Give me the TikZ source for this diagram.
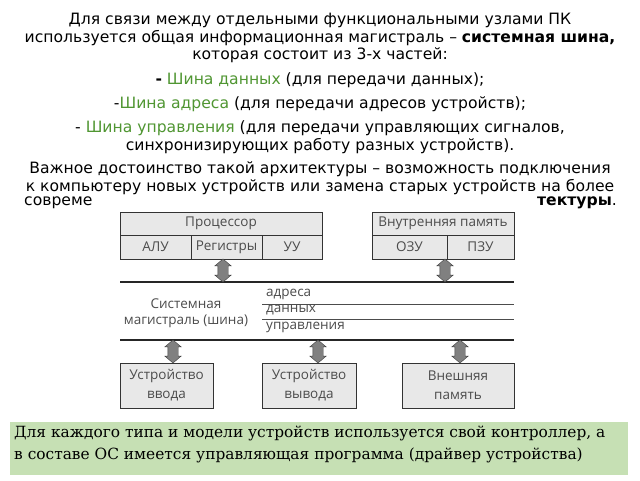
\documentclass[tikz,border=0pt]{standalone}
\usepackage{fontspec}
\setmainfont{DejaVu Sans}
\newfontfamily\diagfont{Open Sans}
\newfontfamily\notefont{DejaVu Serif}
\usetikzlibrary{shapes.arrows}
\definecolor{busgreen}{RGB}{80,150,50}
\definecolor{notegreen}{RGB}{198,224,180}
\definecolor{boxgray}{RGB}{232,232,232}
\tikzset{
  para/.style={align=center, font=\fontsize{15.6}{17.5}\selectfont, inner sep=0pt},
  cell/.style={draw=black!80, thick, fill=boxgray, font=\diagfont\fontsize{13.5}{19}\selectfont, text=black!70, align=center, inner sep=0pt},
  dbl/.style={double arrow, shape border rotate=90, draw=black!75, fill=black!50, minimum height=23pt, minimum width=11pt, double arrow head extend=3pt, double arrow tip angle=100, inner sep=5pt},
  busline/.style={line width=1.6pt, black!85},
  wire/.style={thin, black!70},
  small/.style={font=\diagfont\fontsize{13.5}{16}\selectfont, text=black!70, inner sep=0pt, anchor=west}
}
\begin{document}
\begin{tikzpicture}[x=1pt,y=-1pt]
\useasboundingbox (0,0) rectangle (640,480);
\fill[white] (0,0) rectangle (640,480);

% text
\node[para] (t1) at (320,38) {Для связи между отдельными функциональными узлами ПК\\используется общая информационная магистраль – \textbf{системная шина,}\\которая состоит из 3-х частей:};
\node[para] (t2) at (320,80) {\textbf{-} \textcolor{busgreen}{Шина данных} (для передачи данных);};
\node[para] (t3) at (320,104) {-\textcolor{busgreen}{Шина адреса} (для передачи адресов устройств);};
\node[para] (t4) at (320,137) {- \textcolor{busgreen}{Шина управления} (для передачи управляющих сигналов,\\синхронизирующих работу разных устройств).};
\node[para] (t5) at (320,178) {Важное достоинство такой архитектуры – возможность подключения\\к компьютеру новых устройств или замена старых устройств на более};
\node[para, anchor=west] (t6) at (24,203) {совреме};
\node[para, anchor=east] (t7) at (617,203) {\textbf{тектуры}.};
\fill[white] (112,206) rectangle (528,416);

% processor and memory
\node[cell, minimum width=202pt, minimum height=23pt] (cpu) at (221,223.5) {Процессор};
\node[cell, minimum width=71pt, minimum height=24pt] (alu) at (155.5,247) {АЛУ};
\node[cell, minimum width=71pt, minimum height=24pt] (reg) at (226.5,247) {Регистры};
\node[cell, minimum width=60pt, minimum height=24pt] (cu) at (292,247) {УУ};
\node[cell, minimum width=142pt, minimum height=23pt] (mem) at (443,223.5) {Внутренняя память};
\node[cell, minimum width=75pt, minimum height=24pt] (ram) at (409.5,247) {ОЗУ};
\node[cell, minimum width=67pt, minimum height=24pt] (rom) at (480.5,247) {ПЗУ};

% bus
\coordinate (btl) at (120,282);
\coordinate (btr) at (514,282);
\coordinate (bbl) at (120,340);
\coordinate (bbr) at (514,340);
\draw[busline] (btl) -- (btr);
\draw[busline] (bbl) -- (bbr);
\coordinate (w1l) at (262,304);
\coordinate (w1r) at (514,304);
\coordinate (w2l) at (262,319);
\coordinate (w2r) at (514,319);
\draw[wire] (w1l) -- (w1r);
\draw[wire] (w2l) -- (w2r);
\node[small, anchor=center, align=center] (bus) at (186,313) {Системная\\магистраль (шина)};
\node[small] (addr) at (266,294) {адреса};
\node[small] (data) at (266,310) {данных};
\node[small] (ctrl) at (266,327) {управления};

% devices
\node[cell, minimum width=93pt, minimum height=45pt] (in) at (166.5,385.5) {Устройство\\ввода};
\node[cell, minimum width=94pt, minimum height=45pt] (out) at (309,385.5) {Устройство\\вывода};
\node[cell, minimum width=112pt, minimum height=45pt] (ext) at (458,385.5) {Внешняя\\память};

% arrows
\node[dbl] (a1) at (223,270.5) {};
\node[dbl] (a2) at (445,270.5) {};
\node[dbl] (a3) at (173,351.5) {};
\node[dbl] (a4) at (318,351.5) {};
\node[dbl] (a5) at (460,351.5) {};

% note
\node[fill=notegreen, minimum width=618pt, minimum height=53pt, anchor=north west] (note) at (10,422) {};
\node[anchor=north west, align=left, font=\notefont\fontsize{15.4}{22}\selectfont, inner sep=0pt] (notetext) at (14,426) {Для каждого типа и модели устройств используется свой контроллер, а\\в составе ОС имеется управляющая программа (драйвер устройства)};
\end{tikzpicture}
\end{document}
